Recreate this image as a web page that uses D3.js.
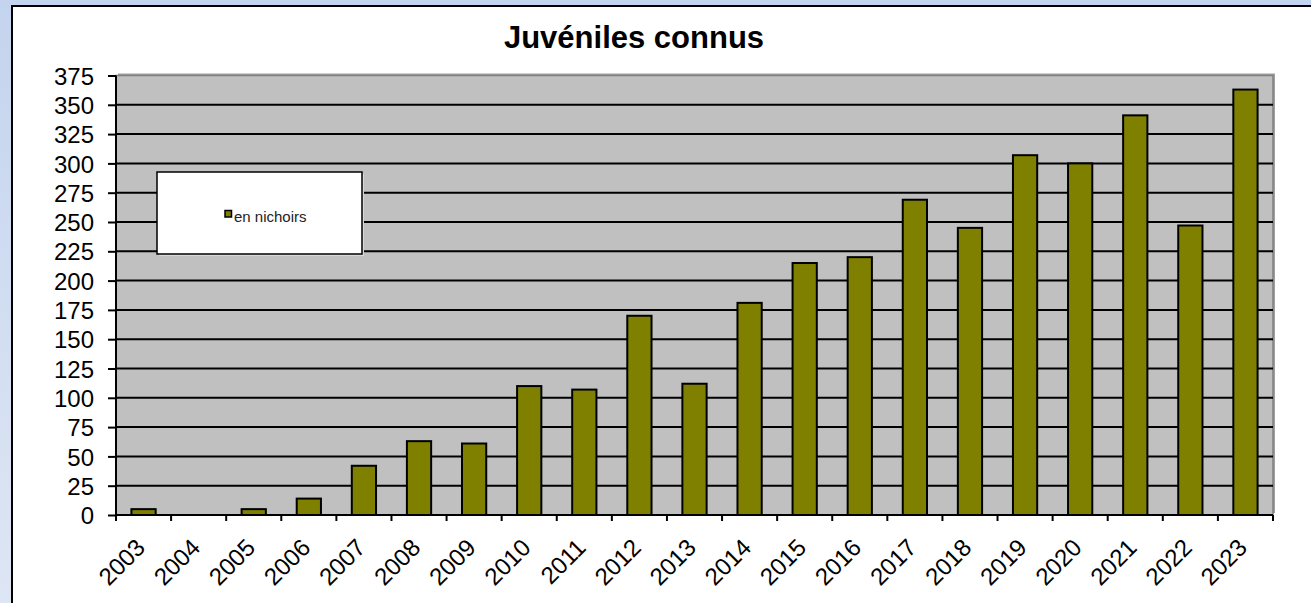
<!DOCTYPE html>
<html>
<head>
<meta charset="utf-8">
<script src="https://cdn.jsdelivr.net/npm/d3@7"></script>
<style>
  body { margin: 0; overflow: hidden; }
  svg { display: block; font-family: "Liberation Sans", Arial, sans-serif; }
  .barre { fill: #808000; stroke: #000; stroke-width: 2; }
  .grille { stroke: #000; stroke-width: 2; }
  .tick text { font-size: 24px; fill: #000; }
</style>
</head>
<body>
<svg id="graphique"></svg>
<script>
var annees = ['2003','2004','2005','2006','2007','2008','2009','2010','2011','2012','2013',
              '2014','2015','2016','2017','2018','2019','2020','2021','2022','2023'];
var enNichoirs = [5, 0, 5, 14, 42, 63, 61, 110, 107, 170, 112,
                  181, 215, 220, 269, 245, 307, 300, 341, 247, 363];
var graduations = [0, 25, 50, 75, 100, 125, 150, 175, 200, 225, 250, 275, 300, 325, 350, 375];
var titre = 'Juvéniles connus';
var nomSerie = 'en nichoirs';

var largeur = 1311, hauteur = 603;

var svg = d3.select('#graphique')
            .attr('width', largeur)
            .attr('height', hauteur);

var defs = svg.append('defs');
var fond = defs.append('linearGradient')
               .attr('id', 'fond')
               .attr('x1', 0).attr('y1', 0).attr('x2', 0).attr('y2', 1);
fond.append('stop').attr('offset', '0%').attr('stop-color', '#c4d4ee');
fond.append('stop').attr('offset', '100%').attr('stop-color', '#dee6f4');

svg.append('rect')
   .attr('width', largeur).attr('height', hauteur)
   .attr('fill', 'url(#fond)');

// cadre blanc du graphique (dépasse la fenêtre à droite et en bas)
svg.append('rect')
   .attr('x', 12).attr('y', 6)
   .attr('width', largeur + 20).attr('height', hauteur + 20)
   .attr('fill', '#fff')
   .attr('stroke', '#000')
   .attr('stroke-width', 2);

var marge = { gauche: 116, droite: 38, haut: 75.5, bas: 88 };
var largeurTrace = largeur - marge.gauche - marge.droite;
var hauteurTrace = hauteur - marge.haut - marge.bas;

svg.append('text')
   .attr('x', 634).attr('y', 48)
   .attr('text-anchor', 'middle')
   .attr('font-size', 31)
   .attr('font-weight', 'bold')
   .text(titre);

var trace = svg.append('g')
               .attr('transform', 'translate(' + marge.gauche + ',' + marge.haut + ')');

var x = d3.scaleBand().domain(annees).range([0, largeurTrace]).paddingInner(0).paddingOuter(0);
var y = d3.scaleLinear().domain([0, 375]).range([hauteurTrace, 0]);

// ombre + fond gris de la zone de tracé
trace.append('rect')
     .attr('x', 2).attr('y', -2)
     .attr('width', largeurTrace).attr('height', hauteurTrace)
     .attr('fill', '#a0a0a0');
trace.append('rect')
     .attr('width', largeurTrace).attr('height', hauteurTrace)
     .attr('fill', '#c0c0c0')
     .attr('stroke', '#808080')
     .attr('stroke-width', 1.5);

trace.selectAll('.grille')
  .data(graduations.filter(d => d > 0 && d < 375))
  .enter()
    .append('line')
    .classed('grille', true)
    .attr('x1', 0).attr('x2', largeurTrace)
    .attr('y1', d => y(d)).attr('y2', d => y(d));

var largeurBarre = x.bandwidth() * 0.44;
trace.selectAll('.barre')
  .data(enNichoirs)
  .enter()
    .append('rect')
    .classed('barre', true)
    .attr('x', (d, i) => x(annees[i]) + (x.bandwidth() - largeurBarre) / 2)
    .attr('y', d => y(d))
    .attr('width', largeurBarre)
    .attr('height', d => hauteurTrace - y(d))
    .style('display', d => d > 0 ? null : 'none');

var axeY = trace.append('g')
  .call(d3.axisLeft(y).tickValues(graduations).tickSize(8).tickPadding(14));
axeY.select('.domain').attr('stroke-width', 2).attr('d', 'M0,' + (hauteurTrace + 6) + 'V0');
axeY.selectAll('.tick line').attr('stroke-width', 2);
axeY.selectAll('.tick text').attr('dy', '0.36em');

// graduations de l'axe X aux limites des catégories
var limites = annees.map(a => x(a)).concat([largeurTrace]);
trace.selectAll('.tickX')
  .data(limites)
  .enter()
    .append('line')
    .attr('x1', d => d).attr('x2', d => d)
    .attr('y1', hauteurTrace).attr('y2', hauteurTrace + 6)
    .attr('stroke', '#000').attr('stroke-width', 2);
trace.append('line')
     .attr('x1', 0).attr('x2', largeurTrace)
     .attr('y1', hauteurTrace).attr('y2', hauteurTrace)
     .attr('stroke', '#000').attr('stroke-width', 2);

trace.selectAll('.etiquette')
  .data(annees)
  .enter()
    .append('text')
    .attr('font-size', 24)
    .attr('text-anchor', 'end')
    .attr('transform', d => 'translate(' + (x(d) + x.bandwidth() / 2 + 3) + ',' + (hauteurTrace + 34) + ') rotate(-45)')
    .text(d => d);

// légende
var legende = svg.append('g').attr('transform', 'translate(157,172)');
legende.append('rect')
       .attr('x', 2).attr('y', 2)
       .attr('width', 205).attr('height', 82)
       .attr('fill', '#d8d8d8');
legende.append('rect')
       .attr('width', 205).attr('height', 82)
       .attr('fill', '#fff')
       .attr('stroke', '#000')
       .attr('stroke-width', 1.5);
legende.append('rect')
       .attr('x', 68).attr('y', 38.5)
       .attr('width', 6.5).attr('height', 6.5)
       .attr('fill', '#808000')
       .attr('stroke', '#000')
       .attr('stroke-width', 1.5);
legende.append('text')
       .attr('x', 77).attr('y', 50)
       .attr('font-size', 15)
       .attr('fill', '#222')
       .text(nomSerie);
</script>
</body>
</html>
